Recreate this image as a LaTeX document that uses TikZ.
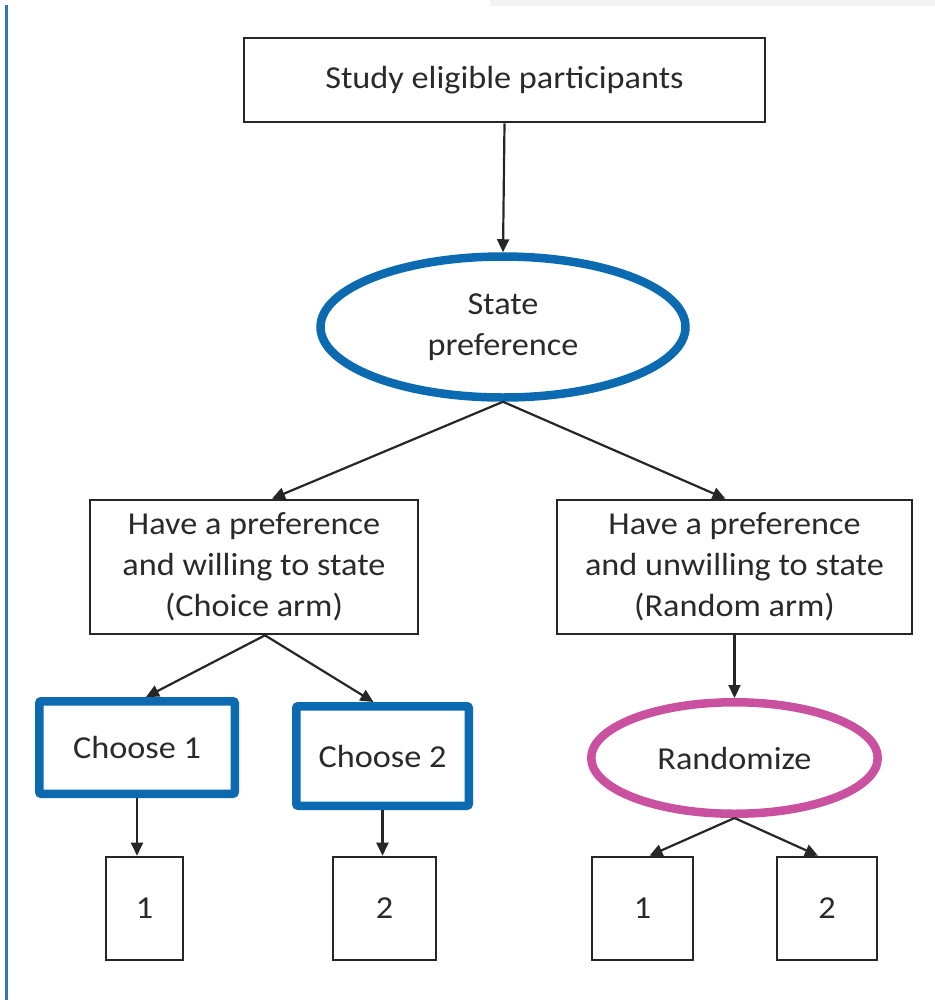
\documentclass[tikz,border=0pt]{standalone}
\usepackage{fontspec}
\setmainfont{Carlito}[FakeStretch=1.07]
\usetikzlibrary{arrows.meta,shapes.geometric}
\definecolor{armblue}{HTML}{0B6AB0}
\definecolor{randpink}{HTML}{C9519F}
\definecolor{inktext}{HTML}{2A2A2A}
\definecolor{inkline}{HTML}{262626}
\definecolor{edgeline}{HTML}{2E76B8}
\definecolor{topbar}{HTML}{F2F2F2}
\begin{document}
\begin{tikzpicture}[x=1pt,y=-1pt,
  every node/.style={font=\fontsize{32}{41}\selectfont, text=inktext, align=center, inner sep=0pt},
  plainbox/.style={draw=inkline, line width=2.6pt, rectangle},
  bluebox/.style={draw=armblue, line width=8.5pt, rectangle, rounded corners=2pt},
  blueoval/.style={draw=armblue, line width=8.5pt, ellipse},
  pinkoval/.style={draw=randpink, line width=8.5pt, ellipse},
  arr/.style={draw=inkline, line width=2.2pt, -{Triangle[length=13pt,width=12pt]}}]
\useasboundingbox (0,0) rectangle (935,1005);
% page decorations
\fill[topbar] (490,0) rectangle (935,6);
\fill[edgeline] (5,5) rectangle (8,1000);
% nodes
\node[plainbox, minimum width=521, minimum height=84] (top) at (504.5,80) {Study eligible participants};
\node[blueoval, minimum width=365, minimum height=141] (sp) at (503,327) {State\\preference};
\node[plainbox, minimum width=328, minimum height=134] (choice) at (254,567) {Have a preference\\and willing to state\\(Choice arm)};
\node[plainbox, minimum width=355, minimum height=134] (random) at (734.5,567) {Have a preference\\and unwilling to state\\(Random arm)};
\node[bluebox, minimum width=195.5, minimum height=92.5] (c1) at (137,747.5) {Choose 1};
\node[bluebox, minimum width=172.5, minimum height=99.5] (c2) at (382.5,756) {Choose 2};
\node[pinkoval, minimum width=286.5, minimum height=111.5] (rz) at (734.5,758) {Randomize};
\node[plainbox, minimum width=77, minimum height=103] (b1) at (144.5,908.5) {1};
\node[plainbox, minimum width=103, minimum height=103] (b2) at (384.5,908.5) {2};
\node[plainbox, minimum width=101, minimum height=103] (b3) at (642.5,908.5) {1};
\node[plainbox, minimum width=100, minimum height=103] (b4) at (827,908.5) {2};
% connectors
\draw[arr] (top.south) -- (sp.north);
\draw[arr] (sp.south) -- ([xshift=18pt]choice.north);
\draw[arr] (sp.south) -- ([xshift=-9pt]random.north);
\draw[arr] ([xshift=11pt]choice.south) -- ([xshift=9pt]c1.north);
\draw[arr] ([xshift=11pt]choice.south) -- ([xshift=-9pt]c2.north);
\draw[arr] (c1.south) -- (c1.south |- b1.north);
\draw[arr] (c2.south) -- (c2.south |- b2.north);
\draw[arr] (random.south) -- (random.south |- rz.north);
\draw[arr] (rz.south) -- ([xshift=7pt]b3.north);
\draw[arr] (rz.south) -- ([xshift=-9pt]b4.north);
\end{tikzpicture}
\end{document}
